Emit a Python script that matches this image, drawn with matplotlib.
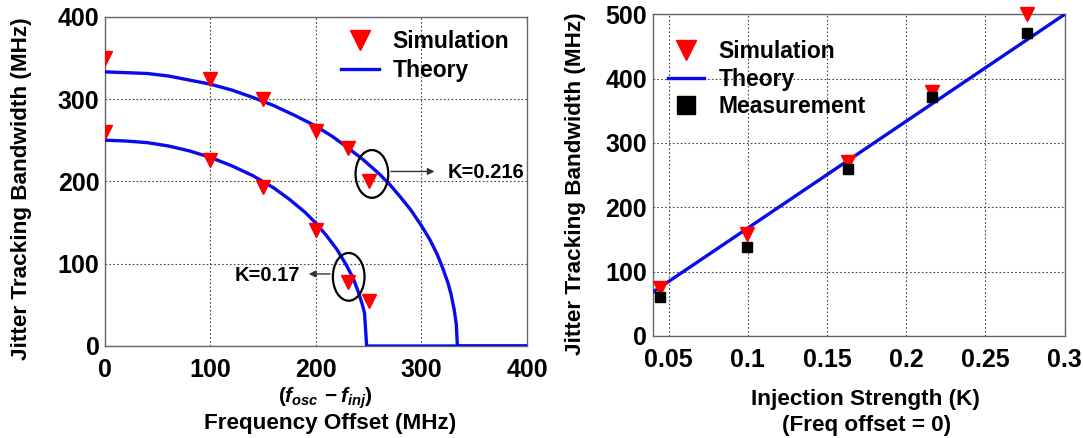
import matplotlib
matplotlib.use('Agg')
import matplotlib.pyplot as plt
from matplotlib.patches import Ellipse

plt.rcParams['font.family'] = ['Liberation Sans', 'DejaVu Sans']
plt.rcParams['font.weight'] = 'bold'
plt.rcParams['mathtext.fontset'] = 'custom'
plt.rcParams['mathtext.rm'] = 'Liberation Sans:bold'
plt.rcParams['mathtext.it'] = 'Liberation Sans:italic:bold'

# --- left panel: bandwidth vs frequency offset ---
offset_sim = [0, 100, 150, 200, 230, 250]
sim_k216 = [350, 324, 300, 261, 241, 200]
sim_k17 = [260, 226, 193, 141, 78, 55]

theory_k216_x = [0, 20, 40, 60, 80, 100, 120, 140, 160, 180, 200, 215, 230, 245, 260, 270,
                 280, 290, 300, 308, 315, 320, 325, 328, 331, 333, 334, 400]
theory_k216_y = [333, 332, 331, 328, 323, 318, 311, 302, 292, 280, 267, 255, 241, 226, 209, 196,
                 181, 165, 146, 129, 111, 95, 77, 63, 44, 26, 0, 0]
theory_k17_x = [0, 20, 40, 60, 80, 100, 120, 140, 160, 175, 190, 200, 210, 220, 228, 235,
                240, 244, 246, 248, 400]
theory_k17_y = [250, 249, 247, 243, 237, 229, 219, 207, 192, 178, 162, 149, 134, 117, 100, 83,
                66, 50, 40, 0, 0]

# --- right panel: bandwidth vs injection strength ---
k_vals = [0.0447, 0.0995, 0.1635, 0.216, 0.276]
sim_bw = [75, 159, 270, 379, 500]
meas_bw = [61, 139, 259, 371, 471]
theory_k = [0.04, 0.3]
theory_bw = [68, 500]

BLUE = '#0a0aee'
RED = '#ff0000'
TICK_FS = 18
LABEL_FS = 16.2
LEG_FS = 16.5

fig = plt.figure(figsize=(10.83, 4.38), dpi=100)
ax1 = fig.add_axes([0.09695, 0.21005, 0.38966, 0.75183])
ax2 = fig.add_axes([0.60268, 0.23288, 0.38043, 0.73447])

for ax in (ax1, ax2):
    ax.grid(True, linestyle=(0, (1.5, 2)), color='#444444', linewidth=0.8)
    ax.tick_params(length=0, labelsize=TICK_FS)
    ax.tick_params(axis='x', pad=9)
    ax.tick_params(axis='y', pad=4)
    for s in ax.spines.values():
        s.set_color('#666666')
        s.set_linewidth(1.0)

# left
ax1.plot(offset_sim, sim_k216, 'v', color=RED, markersize=10, label='Simulation', zorder=4)
ax1.plot(theory_k216_x, theory_k216_y, '-', color=BLUE, linewidth=2.4, label='Theory', zorder=3)
ax1.plot(theory_k17_x, theory_k17_y, '-', color=BLUE, linewidth=2.4, zorder=3)
ax1.plot(offset_sim, sim_k17, 'v', color=RED, markersize=10, zorder=4)
ax1.set_xlim(0, 400)
ax1.set_ylim(0, 400)
ax1.set_xticks([0, 100, 200, 300, 400])
ax1.set_yticks([0, 100, 200, 300, 400])
leg1 = ax1.legend(loc='upper left', frameon=False, fontsize=LEG_FS, handlelength=1.66,
                  handletextpad=0.6, borderpad=0, borderaxespad=0, labelspacing=0.24,
                  bbox_to_anchor=(0.559, 0.959))
leg1.legend_handles[0].set_markersize(14)

ax1.add_patch(Ellipse((253, 209), 31, 58, fill=False, edgecolor='black', linewidth=1.6, zorder=5))
ax1.add_patch(Ellipse((231, 84), 30, 58, fill=False, edgecolor='black', linewidth=1.6, zorder=5))
ax1.annotate('', xy=(315, 212), xytext=(268.5, 212),
             arrowprops=dict(arrowstyle='-|>', color='#333333', lw=1.0, mutation_scale=10))
ax1.text(325, 210.5, 'K=0.216', fontsize=14.5, fontweight='bold', va='center', ha='left')
ax1.annotate('', xy=(190.5, 87.5), xytext=(216, 87.5),
             arrowprops=dict(arrowstyle='-|>', color='#333333', lw=1.0, mutation_scale=10))
ax1.text(185, 86, 'K=0.17', fontsize=14.5, fontweight='bold', va='center', ha='right')

fig.text(22 / 1083, 1 - 189 / 438, 'Jitter Tracking Bandwidth (MHz)', fontsize=LABEL_FS,
         fontweight='bold', rotation=90, ha='center', va='center')
fig.text(325 / 1083, 1 - 398 / 438, r'$(f_{osc}\, - f_{inj})$', fontsize=15,
         ha='center', va='center')
fig.text(330 / 1083, 1 - 423 / 438, 'Frequency Offset (MHz)', fontsize=LABEL_FS,
         fontweight='bold', ha='center', va='center')

# right
ax2.plot(k_vals, sim_bw, 'v', color=RED, markersize=10, label='Simulation', zorder=4, clip_on=False)
ax2.plot(theory_k, theory_bw, '-', color=BLUE, linewidth=2.4, label='Theory', zorder=3)
ax2.plot(k_vals, meas_bw, 's', color='black', markersize=7, label='Measurement', zorder=5)
ax2.set_xlim(0.04, 0.3)
ax2.set_ylim(0, 500)
ax2.set_xticks([0.05, 0.1, 0.15, 0.2, 0.25, 0.3])
ax2.set_xticklabels(['0.05', '0.1', '0.15', '0.2', '0.25', '0.3'])
ax2.set_yticks([0, 100, 200, 300, 400, 500])
leg2 = ax2.legend(loc='upper left', frameon=False, fontsize=LEG_FS, handlelength=1.56,
                  handletextpad=0.65, borderpad=0, borderaxespad=0, labelspacing=0.2,
                  bbox_to_anchor=(0.037, 0.92))
leg2.legend_handles[0].set_markersize(15)
leg2.legend_handles[2].set_markersize(13)

fig.text(575 / 1083, 1 - 184 / 438, 'Jitter Tracking Bandwidth (MHz)', fontsize=LABEL_FS,
         fontweight='bold', rotation=90, ha='center', va='center')
fig.text(865 / 1083, 1 - 400 / 438, 'Injection Strength (K)', fontsize=LABEL_FS,
         fontweight='bold', ha='center', va='center')
fig.text(867 / 1083, 1 - 425 / 438, '(Freq offset = 0)', fontsize=LABEL_FS,
         fontweight='bold', ha='center', va='center')

for ax in (ax1, ax2):
    for lbl in ax.get_xticklabels() + ax.get_yticklabels():
        lbl.set_fontweight('bold')

fig.savefig('out.png', dpi=100)
